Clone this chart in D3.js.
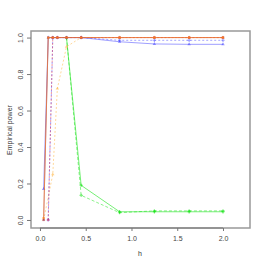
<!DOCTYPE html>
<html>
<head>
<meta charset="utf-8">
<script src="https://cdn.jsdelivr.net/npm/d3@7"></script>
<style>
  body { margin: 0; background: #fff; }
</style>
</head>
<body>
<div id="chart"></div>
<script>
// chart data (h grid and empirical power per method)
var hGrid = [0.04, 0.09, 0.14, 0.19, 0.29, 0.45, 0.87, 1.25, 1.63, 2.0];
var yTicks = [0.0, 0.2, 0.4, 0.6, 0.8, 1.0];
var xTicks = [0.0, 0.5, 1.0, 1.5, 2.0];

var blueSolid   = [0.17, 1.0, 1.0, 1.0, 1.0, 1.0, 0.977, 0.965, 0.963, 0.963];
var blueDashed  = [null, 0.0, 1.0, 1.0, 1.0, 1.0, 0.985, 0.985, 0.985, 0.985];
var purpleSolid = [0.0, 1.0, 1.0, 1.0, 1.0, 1.0, 1.0, 1.0, 1.0, 1.0];
var orangeSolid = [0.01, 1.0, 1.0, 1.0, 1.0, 1.0, 1.0, 1.0, 1.0, 1.0];
var redDashed   = [null, 0.0, 1.0, 1.0, 1.0, 1.0, 1.0, 1.0, 1.0, 1.0];
var orangeDot   = [0.0, null, 0.25, 0.72, 0.95, 1.0, 1.0, 1.0, 1.0, 1.0];
var greenSolid  = [null, null, null, null, 1.0, 0.19, 0.045, 0.045, 0.045, 0.045];
var greenDashed = [null, null, null, null, 1.0, 0.135, 0.04, 0.05, 0.05, 0.05];

var series = [
  { vals: greenSolid,  color: "rgba(0,225,0,0.6)",     dash: null,    sym: "plus" },
  { vals: greenDashed, color: "rgba(0,225,0,0.5)",     dash: "3,2",   sym: "plus" },
  { vals: orangeDot,   color: "rgba(255,175,50,0.55)", dash: "2,2",   sym: "tri" },
  { vals: blueSolid,   color: "rgba(60,60,255,0.55)",  dash: null,    sym: "tri" },
  { vals: blueDashed,  color: "rgba(60,60,255,0.5)",   dash: "2,2",   sym: "plus" },
  { vals: purpleSolid, color: "rgba(140,40,120,0.6)",  dash: null,    sym: "sq" },
  { vals: redDashed,   color: "rgba(220,40,70,0.55)",  dash: "2,1.5", sym: "sq" },
  { vals: orangeSolid, color: "rgba(255,130,20,0.7)",  dash: null,    sym: "sq" }
];

var svgWidth = 266;
var svgHeight = 266;

var svg = d3.select("#chart")
  .append("svg")
  .attr("width", svgWidth)
  .attr("height", svgHeight)
  .style("font-family", "'Liberation Sans', Arial, sans-serif");

var xScale = d3.scaleLinear()
  .domain([-0.098, 2.295])
  .range([31, 250]);

var yScale = d3.scaleLinear()
  .domain([-0.044, 1.036])
  .range([228, 31]);

// lines and markers
series.forEach(function(s) {
  var pts = [];
  s.vals.forEach(function(v, i) {
    if (v !== null) pts.push({ h: hGrid[i], p: v });
  });

  var line = d3.line()
    .x(d => xScale(d.h))
    .y(d => yScale(d.p));

  svg.append("path")
    .datum(pts)
    .attr("d", line)
    .attr("fill", "none")
    .attr("stroke", s.color)
    .attr("stroke-width", 0.9)
    .attr("stroke-dasharray", s.dash);

  var symType = s.sym === "tri" ? d3.symbolTriangle
    : s.sym === "plus" ? d3.symbolCross : d3.symbolSquare;

  svg.append("g").selectAll("path")
    .data(pts)
    .enter()
    .append("path")
    .attr("transform", d => `translate(${xScale(d.h)},${yScale(d.p)})`)
    .attr("d", d3.symbol().type(symType).size(s.sym === "plus" ? 6 : 5))
    .attr("fill", s.color);
});

// box
svg.append("rect")
  .attr("x", 31)
  .attr("y", 31)
  .attr("width", 219)
  .attr("height", 197)
  .attr("fill", "none")
  .attr("stroke", "#999")
  .attr("stroke-width", 1.5);

// axes
var xAxis = d3.axisBottom(xScale)
  .tickValues(xTicks)
  .tickSize(3)
  .tickFormat(d3.format(".1f"));

var yAxis = d3.axisLeft(yScale)
  .tickValues(yTicks)
  .tickSize(4)
  .tickFormat(d3.format(".1f"));

var gx = svg.append("g")
  .attr("transform", "translate(0,228)")
  .call(xAxis);

gx.select(".domain")
  .attr("d", `M${xScale(0)},0H${xScale(2)}`)
  .attr("stroke", "#777");
gx.selectAll(".tick line").attr("stroke", "#777");
gx.selectAll(".tick text")
  .attr("y", 8)
  .style("font-size", "7px")
  .attr("fill", "#444");

var gy = svg.append("g")
  .attr("transform", "translate(31,0)")
  .call(yAxis);

gy.select(".domain").remove();
gy.selectAll(".tick line").attr("stroke", "#777");
gy.selectAll(".tick text")
  .attr("x", 0)
  .attr("dy", 0)
  .attr("text-anchor", "middle")
  .attr("transform", "translate(-8,0) rotate(-90)")
  .style("font-size", "7px")
  .attr("fill", "#444");

// axis titles
svg.append("text")
  .attr("x", 140)
  .attr("y", 256)
  .attr("text-anchor", "middle")
  .attr("fill", "#333")
  .style("font-size", "7px")
  .text("h");

svg.append("text")
  .attr("transform", "translate(12,130) rotate(-90)")
  .attr("text-anchor", "middle")
  .attr("fill", "#333")
  .style("font-size", "7px")
  .text("Empirical power");
</script>
</body>
</html>
